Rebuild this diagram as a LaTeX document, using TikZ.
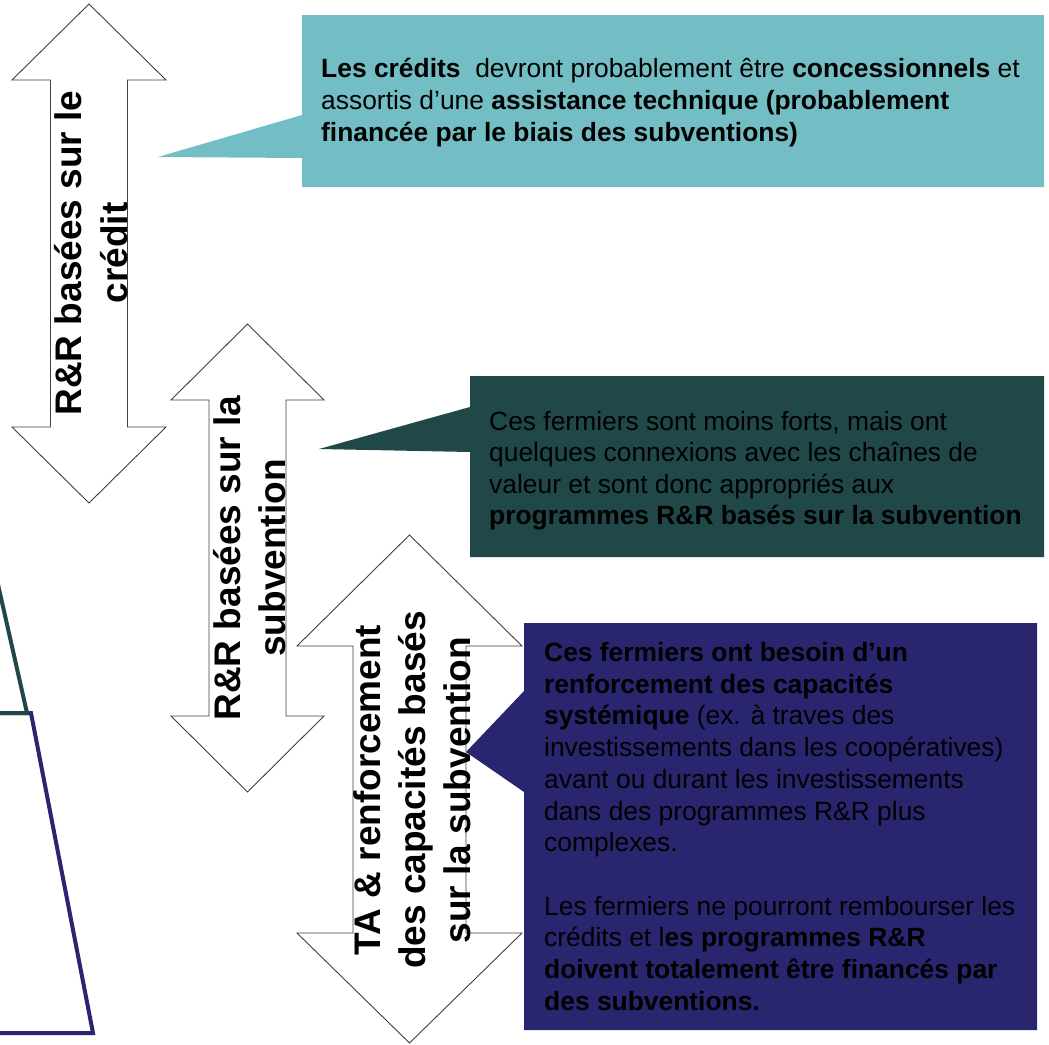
\documentclass[tikz,border=0pt]{standalone}
\usepackage{fontspec}
\setmainfont{Liberation Sans}
\definecolor{tealbox}{HTML}{72BEC4}
\definecolor{darkbox}{HTML}{214848}
\definecolor{navybox}{HTML}{29266F}
\definecolor{arrowline}{HTML}{404040}
\tikzset{
  dblarrow/.style={draw=arrowline, line width=0.9pt, fill=white, line join=miter},
  arrowtext/.style={rotate=90, anchor=base, inner sep=0pt, font=\fontsize{37}{44}\selectfont\bfseries},
  boxtext/.style={anchor=base west, inner sep=0pt, font=\fontsize{26.4}{32}\selectfont, text=black},
  pyrline/.style={line width=4pt, line join=miter},
}
\begin{document}
\begin{tikzpicture}[x=1pt, y=-1pt]
\useasboundingbox (0,0) rectangle (1049,1044);
\clip (0,0) rectangle (1049,1044);
\fill[white] (0,0) rectangle (1049,1044);

% pyramid fragments
\draw[pyrline, draw=navybox] (-10,713) -- (31,713) -- (93,1033) -- (-10,1033);
\draw[pyrline, draw=darkbox] (-3,580) -- (27,713) -- (-10,713);

% double arrows
\draw[dblarrow] (89,4) -- (166,80) -- (127.5,80) -- (127.5,427) -- (166,427) -- (89,503)
  -- (12,427) -- (50.5,427) -- (50.5,80) -- (12,80) -- cycle;
\draw[dblarrow] (247.5,324) -- (324,400) -- (286,400) -- (286,716) -- (324,716) -- (247.5,792)
  -- (171,716) -- (209,716) -- (209,400) -- (171,400) -- cycle;
\draw[dblarrow] (409.5,535) -- (522,646) -- (466,646) -- (466,933) -- (522,933) -- (409.5,1043)
  -- (297,933) -- (353,933) -- (353,646) -- (297,646) -- cycle;

% arrow labels
\node[arrowtext] (a1l1) at (81,253) {R\&R basées sur le};
\node[arrowtext] (a1l2) at (127,253) {crédit};
\node[arrowtext] (a2l1) at (240,558) {R\&R basées sur la};
\node[arrowtext] (a2l2) at (285,558) {subvention};
\node[arrowtext] (a3l1) at (380,790) {TA \& renforcement};
\node[arrowtext] (a3l2) at (425,790) {des capacités basés};
\node[arrowtext] (a3l3) at (470,790) {sur la subvention};

% callout 1
\fill[tealbox] (302,15) -- (1044,15) -- (1044,187) -- (302,187) -- (302,158) -- (158,157) -- (302,115) -- cycle;
\node[boxtext] (b1l1) at (321,77) {\textbf{Les crédits}\ \ devront probablement être \textbf{concessionnels} et};
\node[boxtext] (b1l2) at (321,109) {assortis d’une \textbf{assistance technique (probablement}};
\node[boxtext] (b1l3) at (321,141) {\textbf{financée par le biais des subventions)}};

% callout 2
\fill[darkbox] (470,376) -- (1044,376) -- (1044,557) -- (470,557) -- (470,452) -- (319,449) -- (470,407) -- cycle;
\node[boxtext] (b2l1) at (489,430) {Ces fermiers sont moins forts, mais ont};
\node[boxtext] (b2l2) at (489,461) {quelques connexions avec les chaînes de};
\node[boxtext] (b2l3) at (489,493) {valeur et sont donc appropriés aux};
\node[boxtext] (b2l4) at (489,524) {\textbf{programmes R\&R basés sur la subvention}};

% callout 3
\fill[navybox] (524,623) -- (1037,623) -- (1037,1030) -- (524,1030) -- (524,792) -- (466,752) -- (524,691) -- cycle;
\node[boxtext] (b3l1) at (544,661) {\textbf{Ces fermiers ont besoin d’un}};
\node[boxtext] (b3l2) at (544,693) {\textbf{renforcement des capacités}};
\node[boxtext] (b3l3) at (544,724) {\textbf{systémique} (ex. à traves des};
\node[boxtext] (b3l4) at (544,756) {investissements dans les coopératives)};
\node[boxtext] (b3l5) at (544,788) {avant ou durant les investissements};
\node[boxtext] (b3l6) at (544,820) {dans des programmes R\&R plus};
\node[boxtext] (b3l7) at (544,851) {complexes.};
\node[boxtext] (b3l8) at (544,915) {Les fermiers ne pourront rembourser les};
\node[boxtext] (b3l9) at (544,946) {crédits et l\textbf{es programmes R\&R}};
\node[boxtext] (b3l10) at (544,978) {\textbf{doivent totalement être financés par}};
\node[boxtext] (b3l11) at (544,1010) {\textbf{des subventions.}};
\end{tikzpicture}
\end{document}
